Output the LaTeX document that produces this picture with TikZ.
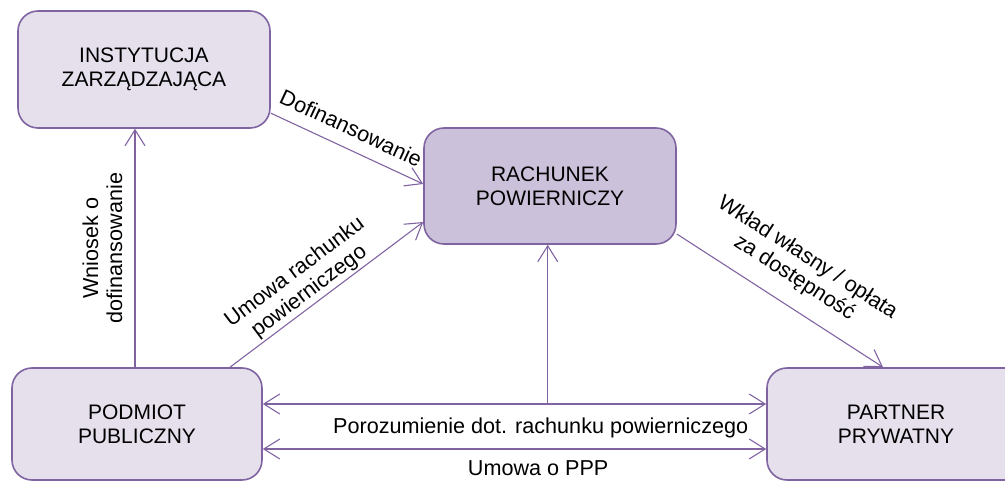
\documentclass[tikz,border=0pt]{standalone}
\usepackage{fontspec}
\setmainfont{Liberation Sans}
\usetikzlibrary{arrows.meta}
\definecolor{frame}{HTML}{8064A2}
\definecolor{boxlight}{HTML}{E5E0EC}
\definecolor{boxdark}{HTML}{CCC1DA}
\begin{document}
\begin{tikzpicture}[x=1pt,y=-1pt,
  box/.style={draw=frame, line width=1.6pt, rounded corners=20pt, fill=boxlight,
    inner sep=0pt, align=center, text=black, font=\fontsize{21}{24}\selectfont},
  conn/.style={draw=frame, line width=1.1pt},
  arr/.style={-{Straight Barb[length=16pt,width=20pt]}},
  arrboth/.style={{Straight Barb[length=16pt,width=20pt]}-{Straight Barb[length=16pt,width=20pt]}},
  lbl/.style={font=\fontsize{21.6}{24}\selectfont, inner sep=2pt, align=center, text=black}]
\clip (0,0) rectangle (1005,481);

% the four parties
\node[box, minimum width=252pt, minimum height=117pt] (inst) at (144,69.5) {INSTYTUCJA\\ZARZĄDZAJĄCA};
\node[box, fill=boxdark, minimum width=252pt, minimum height=116pt] (rach) at (550,186) {RACHUNEK\\POWIERNICZY};
\node[box, minimum width=250pt, minimum height=112pt] (pp) at (137,424) {PODMIOT\\PUBLICZNY};
\node[box, minimum width=258pt, minimum height=112pt] (ptn) at (896,424) {PARTNER\\PRYWATNY};

% flows between them
\draw[conn, arr] (pp.north -| 135,0) -- (inst.south -| 135,0)
  node[lbl, midway, sloped, above=10pt] {Wniosek o\\dofinansowanie};
\draw[conn, arr] (inst.-19) -- ([yshift=2pt]rach.west)
  node[lbl, pos=0.47, sloped, above=10pt] {Dofinansowanie};
\draw[conn, arr] ([xshift=93pt]pp.north) -- ([yshift=-36pt]rach.west)
  node[lbl, pos=0.45, sloped, above] {Umowa rachunku\\powierniczego};
\draw[conn, arr] ([yshift=-48pt]rach.east) -- ([xshift=-13pt]ptn.north)
  node[lbl, midway, sloped, above=14pt] {Wkład własny / opłata\\za dostępność};

\draw[conn, arrboth] (pp.east |- 0,404) -- (ptn.west |- 0,404)
  node[lbl, pos=0.552, below=11pt] {Porozumienie dot. rachunku powierniczego}
  coordinate[pos=0.566] (j);
\draw[conn, arrboth] (pp.east |- 0,449) -- (ptn.west |- 0,449)
  node[lbl, pos=0.547, below=9pt] {Umowa o PPP};
\draw[conn, arr] (j) -- (j |- rach.south);
\end{tikzpicture}
\end{document}
